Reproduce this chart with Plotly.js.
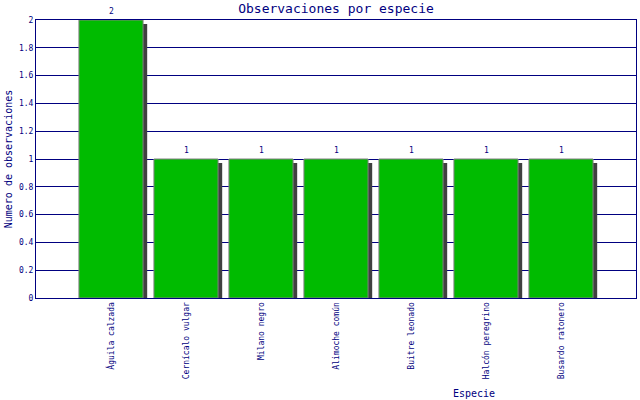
<!DOCTYPE html>
<html>
<head>
<meta charset="utf-8">
<script src="https://cdn.plot.ly/plotly-3.0.1.min.js"></script>
<style>html,body{margin:0;padding:0;background:#fff}#chart{width:640px;height:400px}</style>
</head>
<body>
<div id="chart"></div>
<script>
const especies = ["Águila calzada", "Cernícalo vulgar", "Milano negro", "Alimoche común", "Buitre leonado", "Halcón peregrino", "Busardo ratonero"];
const observaciones = [2, 1, 1, 1, 1, 1, 1];
const yTicks = [0, 0.2, 0.4, 0.6, 0.8, 1, 1.2, 1.4, 1.6, 1.8, 2];
const yTickLabels = ["0", "0.2", "0.4", "0.6", "0.8", "1", "1.2", "1.4", "1.6", "1.8", "2"];

const NAVY = "#000080";
const FONT = "DejaVu Sans Mono, monospace";
const xIdx = especies.map((_, i) => i);

// bar geometry in category units (pitch = 1 category)
const barW = 0.855;
const barOff = -barW / 2;
const shadowDx = 0.055;       // ~4px
const shadowDy = 4 / 139;     // ~4px in y units

const shadow = {
  type: "bar",
  x: xIdx,
  y: observaciones.map(v => v - shadowDy),
  width: barW,
  offset: barOff + shadowDx,
  marker: {color: "#404040", line: {width: 0}},
  hoverinfo: "skip",
  showlegend: false
};
const bars = {
  type: "bar",
  x: xIdx,
  y: observaciones,
  width: barW,
  offset: barOff,
  marker: {color: "#00bb00", line: {color: "#808080", width: 1}},
  showlegend: false
};

const labels = observaciones.map((v, i) => ({
  x: i, y: v, xref: "x", yref: "y",
  text: String(v), showarrow: false,
  yanchor: "bottom", yshift: 2,
  font: {family: FONT, size: 8, color: NAVY}
}));
labels.push({
  xref: "paper", yref: "paper", x: 0.73, y: -0.342,
  text: "Especie", showarrow: false, xanchor: "center", yanchor: "middle",
  font: {family: FONT, size: 10, color: NAVY}
});

const layout = {
  width: 640, height: 400,
  margin: {l: 36, r: 4, t: 20, b: 102, pad: 0},
  paper_bgcolor: "#fff", plot_bgcolor: "#fff",
  barmode: "overlay",
  title: {text: "Observaciones por especie", x: 0.525, xanchor: "center", y: 0.978, yanchor: "middle",
          font: {family: FONT, size: 13, color: NAVY}},
  xaxis: {
    range: [-1, 7], tickmode: "array", tickvals: xIdx, ticktext: especies,
    tickangle: -90, ticks: "", showgrid: false, zeroline: false,
    showline: true, linecolor: NAVY, linewidth: 1, mirror: true,
    tickfont: {family: FONT, size: 8, color: NAVY}, automargin: false
  },
  yaxis: {
    range: [0, 2], tickmode: "array", tickvals: yTicks, ticktext: yTickLabels,
    ticks: "", showgrid: true, gridcolor: NAVY, gridwidth: 1, zeroline: false,
    showline: true, linecolor: NAVY, linewidth: 1, mirror: true,
    tickfont: {family: FONT, size: 8, color: NAVY}, automargin: false,
    title: {text: "Numero de observaciones", standoff: 4, font: {family: FONT, size: 10, color: NAVY}}
  },
  annotations: labels,
  font: {family: FONT, color: NAVY}
};

Plotly.newPlot("chart", [shadow, bars], layout, {displayModeBar: false, staticPlot: true});
</script>
</body>
</html>
